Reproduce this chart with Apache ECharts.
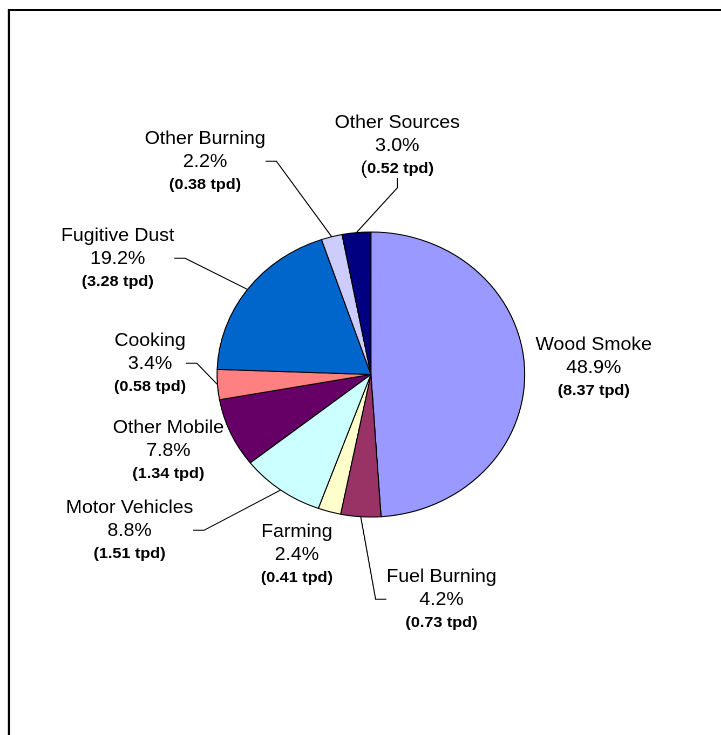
<!DOCTYPE html>
<html>
<head>
<meta charset="utf-8">
<script src="https://cdn.jsdelivr.net/npm/echarts@6/dist/echarts.min.js"></script>
<style>
html,body{margin:0;padding:0;background:#fff;overflow:hidden;}
/* 原图水平方向略有拉伸，按比例横向放大 */
#main{width:668px;height:735px;transform:scaleX(1.0794);transform-origin:0 0;}
</style>
</head>
<body>
<div id="main"></div>
<script>
// 数据：从图上读出
var categories = ["Wood Smoke","Fuel Burning","Farming","Motor Vehicles","Other Mobile","Cooking","Fugitive Dust","Other Burning","Other Sources"];
var percents = [48.9, 4.2, 2.4, 8.8, 7.8, 3.4, 19.2, 2.2, 3.0];
var tpd = ["8.37","0.73","0.41","1.51","1.34","0.58","3.28","0.38","0.52"];
var colors = ["#9999FF","#993366","#FFFFCC","#CCFFFF","#660066","#FF8080","#0066CC","#CCCCFF","#000080"];

// 标签中心位置（未拉伸前的像素）
var labelPos = [[550,368],[409,600],[275,555],[120,531],[156,451],[139,364],[109,259],[190,162],[368,146]];
var noLine = [true,false,true,false,true,false,false,false,false];

var chart = echarts.init(document.getElementById('main'), null, {devicePixelRatio: 2});

var pieData = [];
for (var i = 0; i < categories.length; i++) {
    pieData.push({
        name: categories[i],
        value: percents[i],
        itemStyle: {color: colors[i]},
        labelLine: {show: !noLine[i]}
    });
}

function fmtLabel(p) {
    var i = p.dataIndex;
    var last = i == categories.length - 1 ? '{n|(}{b|' + tpd[i] + ' tpd)}' : '{b|(' + tpd[i] + ' tpd)}';
    return '{n|' + categories[i] + '}\n{n|' + percents[i].toFixed(1) + '%}\n' + last;
}

var option = {
    backgroundColor: '#fff',
    animation: false,
    graphic: [{
        type: 'rect',
        shape: {x: 8.3, y: 10, width: 900, height: 900},
        style: {fill: 'none', stroke: '#000', lineWidth: 2}
    }],
    series: [{
        type: 'pie',
        center: [343.6, 374.5],
        radius: 142.5,
        startAngle: 90,
        clockwise: true,
        avoidLabelOverlap: false,
        itemStyle: {borderColor: '#000', borderWidth: 1},
        emphasis: {disabled: true},
        label: {
            show: true,
            position: 'outside',
            formatter: fmtLabel,
            align: 'center',
            rich: {
                n: {fontFamily: 'Liberation Sans, Arial', fontSize: 18, color: '#000', lineHeight: 23, align: 'center'},
                b: {fontFamily: 'Liberation Sans, Arial', fontSize: 15, fontWeight: 'bold', color: '#000', lineHeight: 23, align: 'center'}
            }
        },
        labelLine: {
            length: 20,
            length2: 10,
            lineStyle: {color: '#000', width: 1}
        },
        labelLayout: function (params) {
            var pos = labelPos[params.dataIndex];
            return {x: pos[0], y: pos[1], align: 'center', verticalAlign: 'middle'};
        },
        data: pieData
    }]
};
chart.setOption(option);
</script>
</body>
</html>
